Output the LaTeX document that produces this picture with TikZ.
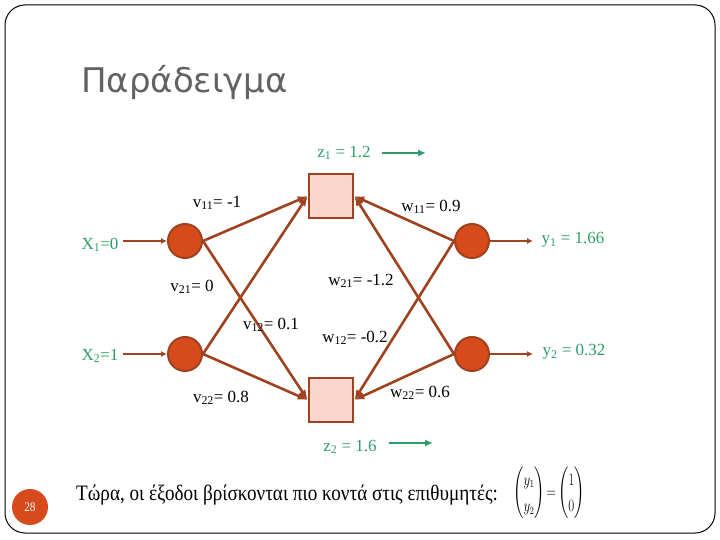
\documentclass[tikz,border=0pt]{standalone}
\usepackage{amsmath}
\usepackage{graphicx}
\usepackage{fontspec}
\setmainfont{Liberation Serif}
\newfontfamily\titlefont{DejaVu Sans}
\newfontfamily\condfont[FakeStretch=0.87]{Liberation Serif}
\usetikzlibrary{arrows.meta,positioning}
\definecolor{linebrown}{HTML}{9E421F}
\definecolor{neuronred}{HTML}{D64A1B}
\definecolor{hidpink}{HTML}{F9D7CC}
\definecolor{valgreen}{HTML}{2E9C69}
\definecolor{titlegray}{HTML}{626262}

\begin{document}
\begin{tikzpicture}[
  x=1pt, y=-1pt,
  neuron/.style={circle, draw=linebrown, line width=2pt, fill=neuronred, minimum size=34pt, inner sep=0pt},
  hid/.style={rectangle, draw=linebrown, line width=2.6pt, fill=hidpink, minimum size=44pt, inner sep=0pt},
  wt/.style={font=\fontsize{17}{20}\selectfont, inner sep=1pt},
  val/.style={wt, text=valgreen},
  cn/.style={draw=linebrown, line width=2.6pt, -{Latex[length=10pt,width=8pt]}},
  io/.style={draw=linebrown, line width=2.6pt, -{Latex[length=6pt,width=6pt]}},
  sig/.style={draw=valgreen, line width=2.6pt, -{Latex[length=8pt,width=7pt]}}
]
\useasboundingbox (0,0) rectangle (720,540);
\draw[line width=1pt, rounded corners=20pt] (5,5) rectangle (715,533);
\node[anchor=base west, text=titlegray, font=\titlefont\fontsize{34}{40}\selectfont, inner sep=0pt] (title) at (81,93) {Παράδειγμα};

\node[neuron] (x1) at (185,241) {};
\node[neuron] (x2) at (185,354) {};
\node[hid] (z1) at (331,196) {};
\node[hid] (z2) at (331,400) {};
\node[neuron] (y1) at (472,241) {};
\node[neuron] (y2) at (472,354) {};

\coordinate (x1in) at (123,241);
\coordinate (x2in) at (123,354);
\coordinate (y1out) at (533,241);
\coordinate (y2out) at (533,354);
\draw[io] (x1in) -- (x1);
\draw[io] (x2in) -- (x2);
\draw[io] (y1) -- (y1out);
\draw[io] (y2) -- (y2out);

\draw[cn] (x1.east) -- (z1.west);
\draw[cn] (x1.east) -- (z2.west);
\draw[cn] (x2.east) -- (z1.west);
\draw[cn] (x2.east) -- (z2.west);
\draw[cn] (y1.west) -- (z1.east);
\draw[cn] (y1.west) -- (z2.east);
\draw[cn] (y2.west) -- (z1.east);
\draw[cn] (y2.west) -- (z2.east);

\node[wt] (v11) at (217,203) {v\textsubscript{11}= -1};
\node[wt] (w11) at (431,207) {w\textsubscript{11}= 0.9};
\node[wt] (v21) at (192,287) {v\textsubscript{21}= 0};
\node[wt] (w21) at (361,281) {w\textsubscript{21}= -1.2};
\node[wt] (v12) at (271,325) {v\textsubscript{12}= 0.1};
\node[wt] (w12) at (355,338) {w\textsubscript{12}= -0.2};
\node[wt] (v22) at (221,398) {v\textsubscript{22}= 0.8};
\node[wt] (w22) at (420,393) {w\textsubscript{22}= 0.6};

\node[val] (x1lab) at (100,245) {X\textsubscript{1}=0};
\node[val] (x2lab) at (100,356) {X\textsubscript{2}=1};
\node[val] (y1lab) at (573,240) {y\textsubscript{1} = 1.66};
\node[val] (y2lab) at (574,352) {y\textsubscript{2} = 0.32};
\node[val] (z1lab) at (344,153) {z\textsubscript{1} = 1.2};
\node[val] (z2lab) at (350,447) {z\textsubscript{2} = 1.6};
\coordinate (z1a) at (382,153);
\coordinate (z1b) at (426,153);
\coordinate (z2a) at (389,443);
\coordinate (z2b) at (433,443);
\draw[sig] (z1a) -- (z1b);
\draw[sig] (z2a) -- (z2b);

\node[circle, fill=neuronred, minimum size=36pt, inner sep=0pt, text=white, font=\condfont\fontsize{13}{15}\selectfont] (page) at (30,507) {28};
\node[anchor=base west, inner sep=0pt, font=\condfont\fontsize{22}{26}\selectfont] (concl) at (76,500) {Τώρα, οι έξοδοι βρίσκονται πιο κοντά στις επιθυμητές:};
\node[font=\fontsize{16}{19}\selectfont, inner sep=0pt] (target) at (549,493) {\scalebox{0.75}[1]{\renewcommand{\arraystretch}{1.4}$\begin{pmatrix} y_1\\ y_2\end{pmatrix}{=}\begin{pmatrix}1\\ 0\end{pmatrix}$}};
\end{tikzpicture}
\end{document}
